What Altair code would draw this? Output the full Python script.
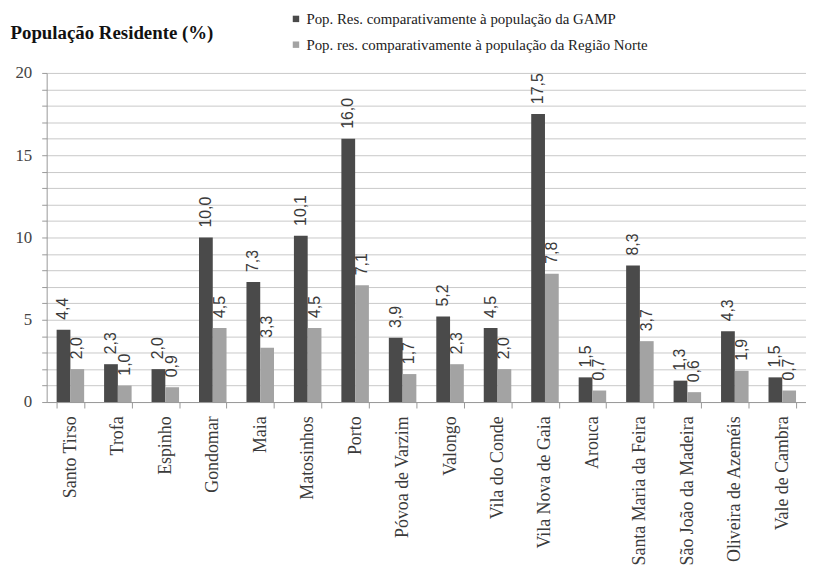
import altair as alt
import pandas as pd

SERIF = "Liberation Serif"
SANS = "Liberation Sans"

municipios = ["Santo Tirso", "Trofa", "Espinho", "Gondomar", "Maia", "Matosinhos", "Porto",
              "Póvoa de Varzim", "Valongo", "Vila do Conde", "Vila Nova de Gaia", "Arouca",
              "Santa Maria da Feira", "São João da Madeira", "Oliveira de Azeméis", "Vale de Cambra"]
gamp = [4.4, 2.3, 2.0, 10.0, 7.3, 10.1, 16.0, 3.9, 5.2, 4.5, 17.5, 1.5, 8.3, 1.3, 4.3, 1.5]
norte = [2.0, 1.0, 0.9, 4.5, 3.3, 4.5, 7.1, 1.7, 2.3, 2.0, 7.8, 0.7, 3.7, 0.6, 1.9, 0.7]
series = ["Pop. Res. comparativamente à população da GAMP",
          "Pop. res. comparativamente à população da Região Norte"]
colors = ["#4a4a4a", "#a3a3a3"]
y_ticks = list(range(0, 21))

rows = []
for m, a, b in zip(municipios, gamp, norte):
    rows.append({"mun": m, "serie": series[0], "v": a})
    rows.append({"mun": m, "serie": series[1], "v": b})
df = pd.DataFrame(rows)
df["lbl"] = df["v"].map(lambda v: f"{v:.1f}".replace(".", ","))

x = alt.X("mun:N", sort=municipios,
          scale=alt.Scale(paddingInner=0.42, paddingOuter=0.21),
          axis=alt.Axis(title=None, labelAngle=270, labelAlign="right", labelBaseline="middle",
                        labelFont=SERIF, labelFontSize=18, labelColor="#3a3a3a", labelPadding=8,
                        tickBand="extent", tickSize=6, tickColor="#999", domainColor="#999",
                        grid=False, labelLimit=300))
xo = alt.XOffset("serie:N", sort=series, scale=alt.Scale(domain=series))
y = alt.Y("v:Q", scale=alt.Scale(domain=[0, 20], nice=False),
          axis=alt.Axis(values=y_ticks, labelExpr="datum.value % 5 == 0 ? datum.label : ''",
                        title="População Residente (%)", titleAngle=0, titleAlign="left",
                        titleBaseline="middle", titleX=-37, titleY=-41, titleFont=SERIF,
                        titleFontSize=19, titleFontWeight="bold", titleColor="#111",
                        gridColor="#c8c8c8", tickColor="#999", domainColor="#999",
                        labelFont=SERIF, labelFontSize=17, labelColor="#444", labelPadding=10,
                        tickSize=5))

color = alt.Color("serie:N", scale=alt.Scale(domain=series, range=colors),
                  legend=alt.Legend(title=None, orient="none", legendX=244, legendY=-62,
                                    symbolType="square", symbolSize=42, symbolStrokeWidth=0,
                                    labelFont=SERIF, labelFontSize=15, labelColor="#222",
                                    labelOffset=3, rowPadding=10, labelLimit=500))

bars = alt.Chart(df).mark_bar().encode(x=x, xOffset=xo, y=y, color=color)
labels = alt.Chart(df).mark_text(angle=270, align="left", baseline="middle", dx=10,
                                 font=SANS, fontSize=16, color="#3a3a3a").encode(
    x=x, xOffset=xo, y=y, text="lbl:N")

chart = alt.layer(bars, labels).properties(
    width=766, height=332,
    padding={"left": 39, "top": 63, "right": 0, "bottom": 175},
    autosize=alt.AutoSizeParams(type="none"),
    background="white",
).configure_view(stroke=None)

chart.save("out.html", embed_options={"renderer": "svg", "actions": False})
